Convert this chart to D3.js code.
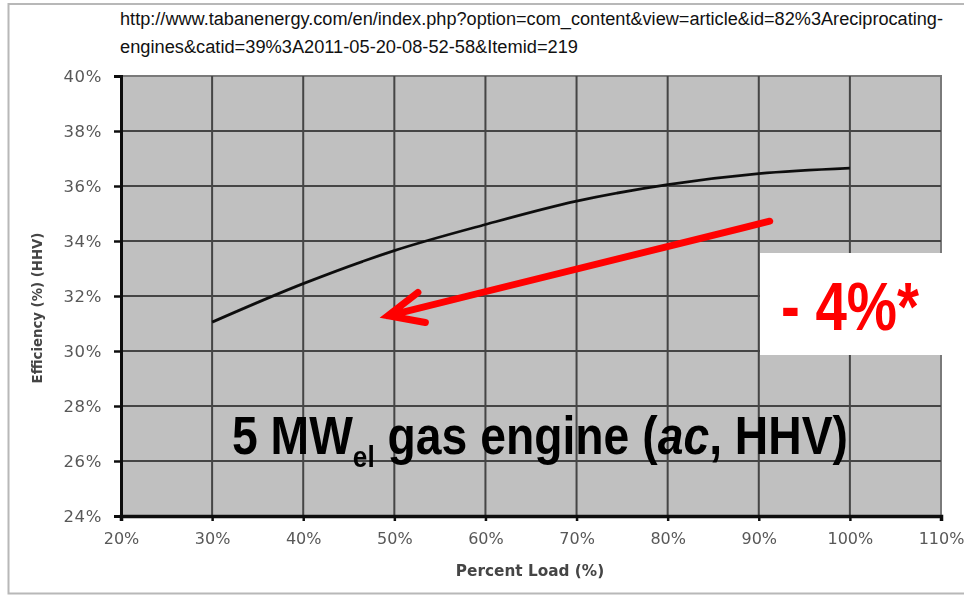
<!DOCTYPE html>
<html>
<head>
<meta charset="utf-8">
<script src="https://cdn.jsdelivr.net/npm/d3@7"></script>
<style>
  html, body { margin: 0; padding: 0; background: #fff; }
  svg { display: block; }
</style>
</head>
<body>
<svg id="chart" width="964" height="596"></svg>
<script>
// Part-load efficiency of a 5 MW gas engine
const loadPct = [30, 40, 50, 60, 70, 80, 90, 100];
const efficiencyPct = [31.05, 32.45, 33.65, 34.6, 35.45, 36.05, 36.45, 36.65];

const xTicks = [20, 30, 40, 50, 60, 70, 80, 90, 100, 110];
const yTicks = [24, 26, 28, 30, 32, 34, 36, 38, 40];

// Annotation arrow (load %, efficiency %): tail then head
const arrowTail = [91.2, 34.72];
const arrowHead = [49.3, 31.28];

const sourceLines = [
  "http://www.tabanenergy.com/en/index.php?option=com_content&view=article&id=82%3Areciprocating-",
  "engines&catid=39%3A2011-05-20-08-52-58&Itemid=219"
];

const svg = d3.select("#chart");
const W = 964, H = 596;
const plot = { left: 121, right: 941, top: 76, bottom: 516 };

const x = d3.scaleLinear().domain([20, 110]).range([plot.left, plot.right]);
const y = d3.scaleLinear().domain([24, 40]).range([plot.bottom, plot.top]);

const chartFont = "'DejaVu Sans', Verdana, sans-serif";
const noteFont = "'Liberation Sans', Arial, sans-serif";

const defs = svg.append("defs");
defs.append("filter").attr("id", "soft")
  .attr("x", "-5%").attr("y", "-5%").attr("width", "110%").attr("height", "110%")
  .append("feGaussianBlur").attr("stdDeviation", 0.6);

// outer frame
svg.append("path")
  .attr("d", `M${W},4 H8.5 V593.5 H${W}`)
  .attr("fill", "none").attr("stroke", "#b8b8b8").attr("stroke-width", 2);

// source URL
const src = svg.append("g").attr("font-family", noteFont)
  .attr("font-size", 18).attr("fill", "#111");
src.append("text").attr("x", 120).attr("y", 25).attr("textLength", 823)
  .attr("lengthAdjust", "spacingAndGlyphs").text(sourceLines[0]);
src.append("text").attr("x", 120).attr("y", 53).attr("textLength", 458)
  .attr("lengthAdjust", "spacingAndGlyphs").text(sourceLines[1]);

const chart = svg.append("g").attr("filter", "url(#soft)");

// plot background
chart.append("rect")
  .attr("x", plot.left).attr("y", plot.top)
  .attr("width", plot.right - plot.left).attr("height", plot.bottom - plot.top)
  .attr("fill", "#c0c0c0").attr("stroke", "#7a7a7a").attr("stroke-width", 2);

// grid
chart.append("g").selectAll("line").data(xTicks.slice(1, -1)).join("line")
  .attr("x1", d => x(d)).attr("x2", d => x(d))
  .attr("y1", plot.top).attr("y2", plot.bottom)
  .attr("stroke", "#444").attr("stroke-width", 2);
chart.append("g").selectAll("line").data(yTicks.slice(1, -1)).join("line")
  .attr("y1", d => y(d)).attr("y2", d => y(d))
  .attr("x1", plot.left).attr("x2", plot.right)
  .attr("stroke", "#444").attr("stroke-width", 2);

// axes
const yAxis = chart.append("g").attr("transform", `translate(${plot.left},0)`)
  .call(d3.axisLeft(y).tickValues(yTicks).tickFormat(d => d + "%").tickSize(7).tickPadding(12));
const xAxis = chart.append("g").attr("transform", `translate(0,${plot.bottom})`)
  .call(d3.axisBottom(x).tickValues(xTicks).tickFormat(d => d + "%").tickSize(5).tickPadding(12));

[yAxis, xAxis].forEach(a => {
  a.select(".domain").attr("stroke", "#111");
  a.selectAll(".tick line").attr("stroke", "#111").attr("stroke-width", 2.5);
  a.selectAll(".tick text")
    .attr("font-family", chartFont)
    .attr("fill", "#585858");
});
yAxis.select(".domain").attr("stroke-width", 3);
xAxis.select(".domain").attr("stroke-width", 3.5);
yAxis.selectAll(".tick text").attr("font-size", 16.5).attr("letter-spacing", 0.6);
xAxis.selectAll(".tick text").attr("font-size", 16).attr("dy", "0.71em");

// axis titles
chart.append("text")
  .attr("x", 530).attr("y", 576)
  .attr("text-anchor", "middle")
  .attr("font-family", chartFont)
  .attr("font-weight", "bold").attr("font-size", 15.3).attr("fill", "#444")
  .text("Percent Load (%)");
chart.append("text")
  .attr("transform", `translate(42,308) rotate(-90)`)
  .attr("text-anchor", "middle")
  .attr("font-family", chartFont)
  .attr("font-weight", "bold").attr("font-size", 13.3).attr("fill", "#444")
  .text("Efficiency (%) (HHV)");

// efficiency curve
const pts = loadPct.map((d, i) => [d, efficiencyPct[i]]);
chart.append("path")
  .datum(pts)
  .attr("fill", "none").attr("stroke", "#111").attr("stroke-width", 2.8)
  .attr("d", d3.line().x(d => x(d[0])).y(d => y(d[1])).curve(d3.curveMonotoneX));

// red arrow
const ax0 = x(arrowTail[0]), ay0 = y(arrowTail[1]);
const ax1 = x(arrowHead[0]), ay1 = y(arrowHead[1]);
const ang = Math.atan2(ay0 - ay1, ax0 - ax1);
const headLen = 38, spread = 0.42;
const arm = s => [ax1 + headLen * Math.cos(ang + s * spread), ay1 + headLen * Math.sin(ang + s * spread)];
const a1 = arm(1), a2 = arm(-1);
svg.append("path")
  .attr("d", `M${ax0},${ay0} L${ax1},${ay1} M${a1[0]},${a1[1]} L${ax1},${ay1} L${a2[0]},${a2[1]}`)
  .attr("fill", "none").attr("stroke", "#ff0000").attr("stroke-width", 7)
  .attr("stroke-linecap", "round").attr("stroke-linejoin", "miter");

// "- 4%*" callout
svg.append("rect").attr("x", 760).attr("y", 253).attr("width", 184).attr("height", 102)
  .attr("fill", "#fff");
svg.append("text").attr("x", 781).attr("y", 330)
  .attr("textLength", 138).attr("lengthAdjust", "spacingAndGlyphs")
  .attr("font-family", noteFont)
  .attr("font-weight", "bold").attr("font-size", 68).attr("fill", "#ff0000")
  .text("- 4%*");

// chart title
const title = svg.append("text").attr("x", 232).attr("y", 454)
  .attr("textLength", 616).attr("lengthAdjust", "spacingAndGlyphs")
  .attr("font-family", noteFont)
  .attr("font-weight", "bold").attr("font-size", 53).attr("fill", "#000");
title.append("tspan").text("5 MW");
title.append("tspan").attr("font-size", 30).attr("dy", 13).text("el");
title.append("tspan").attr("dy", -13).text(" gas engine (");
title.append("tspan").attr("font-style", "italic").text("ac");
title.append("tspan").text(", HHV)");
</script>
</body>
</html>
